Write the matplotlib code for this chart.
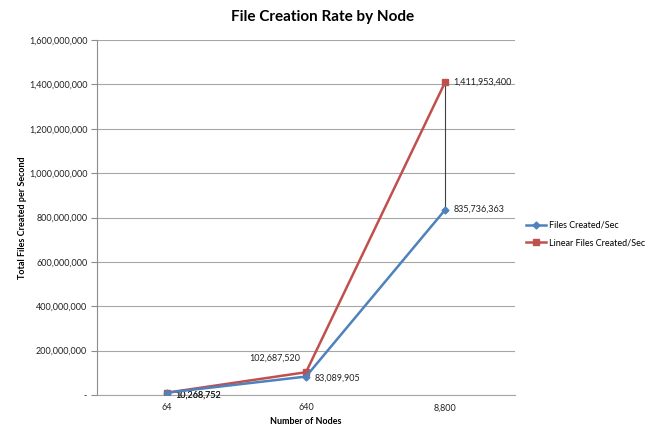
import matplotlib
matplotlib.use("Agg")
from matplotlib import pyplot as plt
from matplotlib.ticker import FuncFormatter
import numpy as np

plt.rcParams['font.family'] = ['Lato', 'DejaVu Sans']

nodes = ["64", "640", "8,800"]
files_created = [10268752, 83089905, 835736363]
linear_created = [10268752, 102687520, 1411953400]

blue = "#4F81BD"
red = "#C0504D"

fig = plt.figure(figsize=(6.45, 4.25), dpi=100)
ax = fig.add_axes([97 / 645, 1 - 395 / 425, (515 - 97) / 645, (395 - 40) / 425])

x = np.arange(len(nodes))

# high-low lines between the two series
ax.vlines(x, files_created, linear_created, color="#404040", lw=0.8, zorder=2)

ax.plot(x, files_created, color=blue, lw=1.8, marker="D", ms=3.5,
        label="Files Created/Sec", zorder=4)
ax.plot(x, linear_created, color=red, lw=1.8, marker="s", ms=5,
        label="Linear Files Created/Sec", zorder=3)

ax.set_xlim(-0.5, 2.5)
ax.set_ylim(0, 1600000000)
ax.set_xticks(x)
ax.set_xticklabels(nodes)
ax.set_yticks(np.arange(0, 1600000001, 200000000))
ax.yaxis.set_major_formatter(FuncFormatter(lambda v, p: "-" if v == 0 else f"{int(v):,}"))
ax.grid(axis="y", color="#A6A6A6", lw=0.8)
ax.set_axisbelow(True)

for side in ["top", "right"]:
    ax.spines[side].set_visible(False)
ax.spines["left"].set_color("#8C8C8C")
ax.spines["bottom"].set_color("#A6A6A6")
ax.tick_params(axis="y", length=4, color="#8C8C8C", labelsize=6.5, labelcolor="#222222", pad=3)
ax.tick_params(axis="x", length=0, labelsize=6.5, labelcolor="#222222", pad=6)

ax.set_xlabel("Number of Nodes", fontsize=6.5, fontweight="bold", labelpad=3)
ax.set_ylabel("Total Files Created per Second", fontsize=6.5, fontweight="bold", labelpad=1)
fig.text(0.5, 1 - 17 / 425, "File Creation Rate by Node", ha="center", va="center",
         fontsize=11, fontweight="bold")

lbl = dict(fontsize=6.5, color="#222222")
ax.annotate(f"{linear_created[0]:,}", (x[0], linear_created[0]), xytext=(6, -2),
            textcoords="offset points", ha="left", va="center", **lbl)
ax.annotate(f"{files_created[0]:,}", (x[0], files_created[0]), xytext=(6, -2),
            textcoords="offset points", ha="left", va="center", **lbl)
ax.annotate(f"{linear_created[1]:,}", (x[1], linear_created[1]), xytext=(-4, 10),
            textcoords="offset points", ha="right", va="center", **lbl)
ax.annotate(f"{files_created[1]:,}", (x[1], files_created[1]), xytext=(6, -1),
            textcoords="offset points", ha="left", va="center", **lbl)
ax.annotate(f"{linear_created[2]:,}", (x[2], linear_created[2]), xytext=(6, 0),
            textcoords="offset points", ha="left", va="center", **lbl)
ax.annotate(f"{files_created[2]:,}", (x[2], files_created[2]), xytext=(6, 0),
            textcoords="offset points", ha="left", va="center", **lbl)

fig.legend(loc="center left", bbox_to_anchor=(518 / 645, 1 - 234 / 425), frameon=False,
           fontsize=6.5, handlelength=2.2, handletextpad=0.3, labelspacing=0.9)

fig.savefig("out.png", dpi=100)
